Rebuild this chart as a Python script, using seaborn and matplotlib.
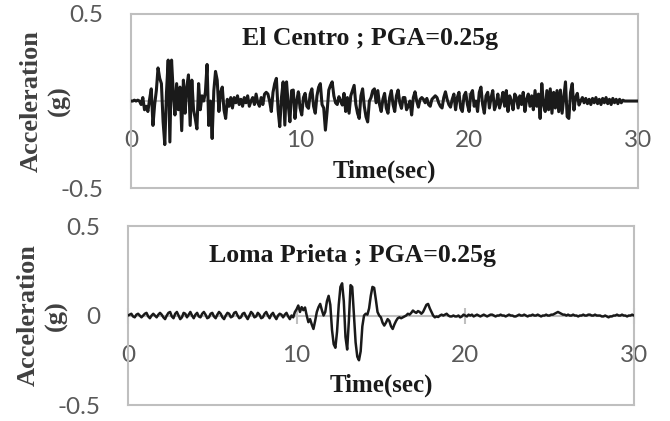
import numpy as np
import matplotlib
matplotlib.use("Agg")
import matplotlib.pyplot as plt
import seaborn as sns

el_centro = [
    0, 0, 0.005, 0, 0.005, 0, -0.02, 0.02, -0.05, -0.03,
    -0.06, 0.01, 0.07, -0.14, -0.02, 0.06, 0.19, 0.13, 0.1, -0.12,
    -0.25, 0.05, 0.235, -0.235, 0.235, 0.05, -0.08, 0.1, -0.05, 0.08,
    -0.17, 0.12, -0.07, 0.08, 0.15, -0.14, 0.12, -0.05, -0.1, -0.16,
    0.1, -0.05, 0.03, 0.0, 0.05, 0.21, -0.14, 0.0, -0.215, 0.06,
    0.17, 0.12, -0.06, 0.05, 0.08, -0.05, -0.1, 0.01, -0.03, 0.02,
    -0.04, 0.02, -0.01, 0.03, -0.02, 0.01, -0.03, 0.02, -0.01, 0.03,
    -0.03, 0.0, 0.02, -0.02, 0.04, -0.01, -0.03, 0.02, -0.02, 0.04,
    0.05, 0.04, 0.0, -0.06, 0.05, 0.1, 0.13, -0.05, -0.147, 0.02,
    0.11, -0.138, 0.11, -0.02, -0.119, 0.06, 0.063, -0.1, 0.0, 0.053,
    -0.04, -0.08, 0.02, 0.044, -0.03, -0.042, 0.04, 0.07, -0.03, -0.07,
    0.03, 0.08, 0.1, -0.02, -0.04, -0.167, -0.06, 0.063, 0.09, 0.11,
    0.03, -0.01, -0.02, 0.025, 0.0, -0.023, 0.044, -0.06, 0.02, -0.07,
    0.03, 0.06, 0.09, -0.02, -0.07, -0.1, 0.03, 0.07, -0.03, -0.09,
    -0.12, 0.0, 0.02, 0.06, 0.07, -0.01, 0.06, -0.02, -0.06, 0.01,
    0.044, -0.04, -0.07, 0.02, 0.06, -0.02, -0.06, 0.03, 0.063, -0.01,
    -0.042, 0.02, 0.02, -0.05, -0.03, 0.0, -0.08, 0.02, 0.053, 0.0,
    -0.035, 0.01, 0.02, 0.01, -0.01, 0.015, -0.02, -0.03, 0.01, 0.02,
    0.03, 0.02, -0.01, -0.03, -0.04, 0.02, 0.053, 0.01, -0.02, -0.035,
    0.01, 0.04, -0.05, 0.02, 0.05, -0.04, -0.06, 0.03, 0.05, -0.02,
    -0.06, 0.04, 0.06, -0.03, 0.0, -0.06, 0.05, 0.08, -0.02, -0.07,
    0.03, 0.05, -0.04, 0.02, 0.06, -0.05, -0.02, 0.04, -0.04, 0.0,
    0.05, -0.03, 0.06, -0.06, 0.03, 0.0, -0.05, 0.04, 0.02, -0.04,
    0.03, -0.02, 0.05, -0.06, 0.01, 0.04, -0.03, 0.03, -0.05, 0.06,
    -0.03, 0.04, -0.1, 0.1, -0.02, -0.06, 0.06, -0.05, 0.07, -0.07,
    0.05, -0.04, 0.06, -0.061, 0.063, -0.07, 0.02, 0.11, -0.09, -0.1,
    0.05, 0.1, -0.052, 0.02, 0.044, -0.023, 0.0, 0.02, -0.01, 0.015,
    -0.015, 0.01, -0.02, 0.015, -0.01, 0.02, -0.015, 0.01, -0.02, 0.015,
    -0.01, 0.02, -0.015, 0.01, -0.02, 0.015, -0.01, 0.01, -0.015, 0.01,
    -0.01, 0.005, 0, 0, 0, 0, 0, 0, 0, 0,
    0,
]

loma_prieta = [
    0.0, 0.005, 0.01, -0.005, -0.01, 0.005, 0.01, 0.0, -0.01, 0.0,
    0.01, 0.015, -0.005, -0.015, 0.0, 0.01, 0.0, -0.01, 0.005, 0.015,
    0.005, -0.01, -0.02, 0.0, 0.015, 0.02, -0.005, -0.015, 0.01, 0.02,
    0.0, -0.02, -0.01, 0.015, 0.01, -0.01, 0.005, 0.02, 0.0, -0.015,
    0.005, 0.015, -0.005, -0.01, 0.01, 0.02, 0.005, -0.015, -0.01, 0.01,
    0.015, -0.005, -0.015, 0.005, 0.02, 0.01, -0.01, -0.02, 0.0, 0.015,
    0.01, -0.01, -0.005, 0.015, 0.02, 0.0, -0.015, -0.01, 0.01, 0.015,
    -0.005, -0.02, 0.0, 0.02, 0.01, -0.01, -0.005, 0.015, 0.005, -0.015,
    -0.01, 0.01, 0.02, 0.0, -0.015, 0.005, 0.015, -0.005, -0.02, 0.0,
    0.01, 0.005, -0.01, 0.005, 0.015, -0.005, -0.02, 0.0, -0.01, 0.02,
    0.035, 0.056, 0.02, 0.047, 0.03, 0.045, 0.0, -0.037, -0.02, -0.05,
    -0.075, -0.03, 0.02, 0.047, 0.065, 0.03, 0.0, 0.02, 0.08, 0.11,
    0.06, -0.08, -0.16, -0.18, -0.09, 0.06, 0.16, 0.18, 0.08, -0.12,
    -0.19, -0.03, 0.17, 0.16, 0.0, -0.15, -0.23, -0.25, -0.2, -0.06,
    0.0, 0.01, 0.005, 0.04, 0.11, 0.16, 0.155, 0.09, 0.02, 0.0,
    -0.01, -0.04, -0.056, -0.04, -0.02, -0.03, -0.06, -0.075, -0.05, -0.03,
    -0.015, -0.01, -0.015, -0.01, -0.005, 0.0, 0.01, 0.005, 0.015, 0.028,
    0.02, 0.015, 0.025, 0.02, 0.01, 0.02, 0.04, 0.06, 0.065, 0.04,
    0.02, 0.0, -0.01, -0.005, -0.008, 0.0, 0.005, 0.0, 0.005, 0.01,
    0.0, -0.005, -0.005, 0.0, -0.005, -0.005, 0.0, -0.01, -0.005, 0.005,
    0.0, -0.005, 0.005, 0.0, 0.005, -0.005, 0.0, 0.005, 0.0, -0.005,
    0.0, 0.005, 0.0, -0.005, 0.0, 0.005, 0.005, 0.0, -0.005, 0.0,
    0.0, 0.005, 0.0, 0.0, -0.005, 0.0, 0.005, 0.0, 0.0, -0.005,
    -0.005, 0.0, 0.005, 0.0, 0.0, 0.005, 0.0, -0.005, 0.0, 0.0,
    0.005, 0.0, 0.0, 0.005, 0.0, -0.005, 0.0, 0.0, 0.005, 0.0,
    0.0, 0.005, 0.005, 0.01, 0.015, 0.02, 0.015, 0.01, 0.005, 0.005,
    0.0, 0.005, 0.0, 0.0, 0.005, 0.0, 0.0, -0.005, 0.0, 0.0,
    0.005, 0.0, 0.0, 0.005, 0.005, 0.0, 0.0, 0.005, 0.0, 0.0,
    0.0, -0.005, -0.005, 0.0, -0.005, -0.01, -0.005, -0.005, 0.0, 0.0,
    0.005, 0.0, 0.0, 0.005, 0.0, 0.0, -0.005, 0.0, 0.0, 0.005,
    0.0,
]

time = np.round(np.arange(len(el_centro)) * 0.1, 1)

titles = ["El Centro ; PGA=0.25g", "Loma Prieta ; PGA=0.25g"]
x_ticks = [0, 10, 20, 30]
y_ticks = [-0.5, 0, 0.5]
y_labels = [["-0.5", "", "0.5"], ["-0.5", "0", "0.5"]]

sns.set_theme(style="white")
plt.rcParams["font.family"] = ["Lato", "DejaVu Sans"]

grey = "#bfbfbf"
fig = plt.figure(figsize=(6.7, 4.21), dpi=100)
ax1 = fig.add_axes([0.1955, 0.553, 0.757, 0.414])
ax2 = fig.add_axes([0.191, 0.038, 0.755, 0.425])

panels = [(ax1, el_centro, 2.2, 0.472, 0.822), (ax2, loma_prieta, 1.8, 0.444, 0.799)]
for i, (ax, acc, lw, tx, ty) in enumerate(panels):
    sns.lineplot(x=time, y=acc, ax=ax, color="#1a1a1a", lw=lw,
                 estimator=None, sort=False, zorder=3)
    ax.set_xlim(0, 30)
    ax.set_ylim(-0.5, 0.5)
    ax.set_xticks([])
    ax.set_xlabel("")
    ax.set_yticks(y_ticks)
    ax.set_yticklabels(y_labels[i])
    ax.tick_params(axis="y", length=0, pad=20, labelsize=17.5, labelcolor="#595959")
    for s in ax.spines.values():
        s.set_visible(True)
        s.set_color(grey)
        s.set_linewidth(1.5)
    ax.set_ylabel("Acceleration\n(g)", family=["Liberation Serif"], fontweight="bold",
                  fontsize=19, color="#404040", linespacing=1.3)
    ax.yaxis.set_label_coords(-0.118, 0.5)

    # x axis crossing at zero, like the spreadsheet original
    sec = ax.secondary_xaxis(0.5)
    sec.set_alignment("bottom")
    sec.set_xticks(x_ticks)
    sec.tick_params(direction="inout", length=12, width=1.5, color=grey,
                    pad=15, labelsize=17.5, labelcolor="#595959")
    sec.spines["bottom"].set_color(grey)
    sec.spines["bottom"].set_linewidth(1.5)
    sec.set_xlabel("Time(sec)", family=["Liberation Serif"], fontweight="bold",
                   fontsize=18, color="#1a1a1a", labelpad=6)

    ax.text(tx, ty, titles[i], transform=ax.transAxes, ha="center", va="baseline",
            family=["Liberation Serif"], fontweight="bold", fontsize=18.5, color="#1a1a1a")

fig.savefig("out.png", dpi=100)
